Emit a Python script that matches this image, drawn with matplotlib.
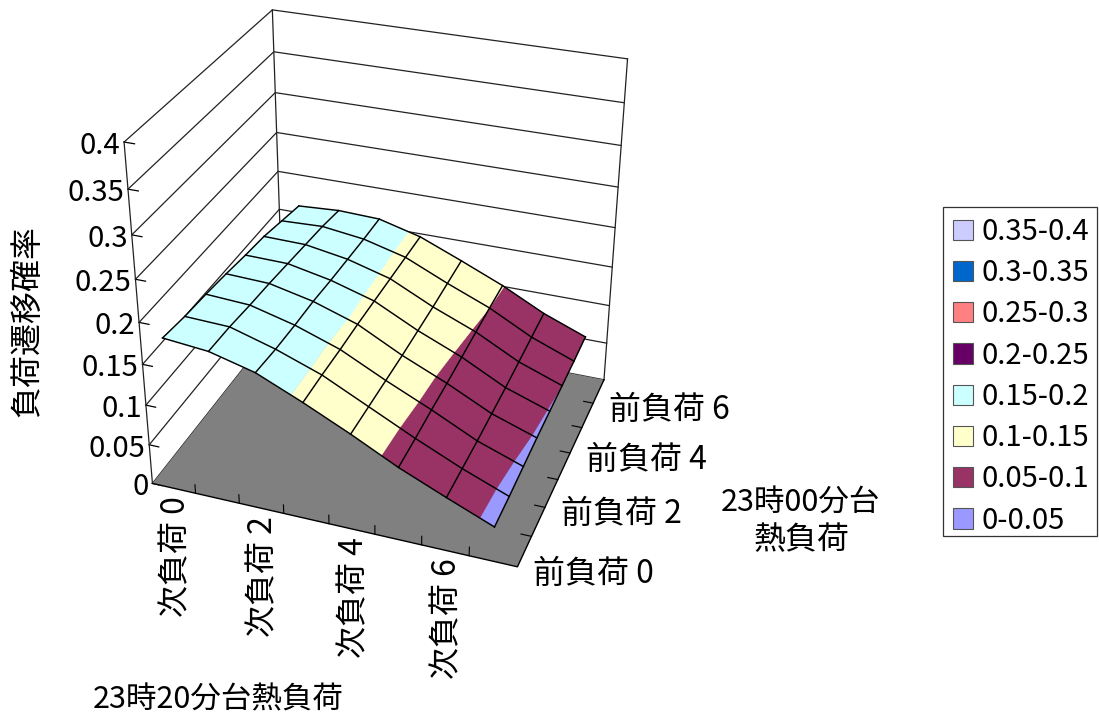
import numpy as np
import matplotlib
matplotlib.use('Agg')
import matplotlib.pyplot as plt
from matplotlib.patches import Patch, Rectangle
from mpl_toolkits.mplot3d import proj3d
from mpl_toolkits.mplot3d.art3d import Poly3DCollection

plt.rcParams['font.family'] = ['Noto Sans CJK JP', 'DejaVu Sans']

# rows: 前負荷 0..7, columns: 次負荷 0..7
row0 = [0.187, 0.182, 0.168, 0.144, 0.118, 0.090, 0.066, 0.043]
row1 = [0.183, 0.181, 0.165, 0.145, 0.118, 0.091, 0.066, 0.044]
row2 = [0.181, 0.178, 0.164, 0.145, 0.118, 0.093, 0.066, 0.046]
row3 = [0.178, 0.176, 0.164, 0.146, 0.118, 0.094, 0.067, 0.048]
row4 = [0.174, 0.173, 0.162, 0.146, 0.119, 0.096, 0.068, 0.049]
row5 = [0.171, 0.170, 0.161, 0.146, 0.120, 0.098, 0.070, 0.050]
row6 = [0.165, 0.167, 0.160, 0.146, 0.122, 0.100, 0.072, 0.051]
row7 = [0.159, 0.162, 0.160, 0.146, 0.124, 0.101, 0.074, 0.053]

z_ticks = [0, 0.05, 0.1, 0.15, 0.2, 0.25, 0.3, 0.35, 0.4]
z_labels = ['0', '0.05', '0.1', '0.15', '0.2', '0.25', '0.3', '0.35', '0.4']
next_labels = ['次負荷 0', '次負荷 2', '次負荷 4', '次負荷 6']
prev_labels = ['前負荷 0', '前負荷 2', '前負荷 4', '前負荷 6']
band_edges = [0, 0.05, 0.1, 0.15, 0.2, 0.25, 0.3, 0.35, 0.4]
band_names = ['0-0.05', '0.05-0.1', '0.1-0.15', '0.15-0.2', '0.2-0.25', '0.25-0.3', '0.3-0.35', '0.35-0.4']
band_colors = ['#9999FF', '#993366', '#FFFFCC', '#CCFFFF', '#660066', '#FF8080', '#0066CC', '#CCCCFF']

W, H = 1099, 716
Z = np.array([row0, row1, row2, row3, row4, row5, row6, row7])
xs = np.arange(8) + 0.5     # categories sit between ticks
ys = np.arange(8) * 8 / 7   # series run edge to edge


def clip_band(poly, lo, hi):
    # cut a polygon to lo <= z <= hi
    for bound, sign in ((lo, 1), (hi, -1)):
        res = []
        for i in range(len(poly)):
            a, b = np.array(poly[i]), np.array(poly[(i + 1) % len(poly)])
            da, db = sign * (a[2] - bound), sign * (b[2] - bound)
            if da >= 0:
                res.append(a)
            if da * db < 0:
                res.append(a + (b - a) * da / (da - db))
        poly = res
        if not poly:
            break
    return poly


fig = plt.figure(figsize=(W / 100, H / 100), dpi=100)
ax = fig.add_axes([70.157 / W, (H - 590.75) / H, 619.1 / W, 619.1 / H], projection='3d')
ax.set_xlim(0, 8, view_margin=0)
ax.set_ylim(0, 8, view_margin=0)
ax.set_zlim(0, 0.4, view_margin=0)
ax.view_init(30.118, -70.097, 0.0025)
ax.set_proj_type('persp', focal_length=0.52828)
ax.set_box_aspect((1, 0.88603, 0.99708))
ax.set_axis_off()
ax.computed_zorder = False
ax.patch.set_alpha(0)

line = dict(color='#222222', lw=0.9, zorder=1)
for z in z_ticks:
    ax.plot([0, 0, 8], [0, 8, 8], [z, z, z], **line)
    ax.plot([0, 0.22], [0, 0], [z, z], color='black', lw=0.9, zorder=1)
for x, y in ((0, 0), (0, 8), (8, 8)):
    ax.plot([x, x], [y, y], [0, 0.4], **line)

floor = Poly3DCollection([[(0, 0, 0), (8, 0, 0), (8, 8, 0), (0, 8, 0)]], facecolor='#808080',
                         edgecolor='none', zorder=2)
ax.add_collection3d(floor)
ax.plot([0, 8, 8], [0, 0, 8], [0, 0, 0], color='black', lw=1.0, zorder=3)
for i in range(1, 8):
    ax.plot([i, i], [0, 0], [0, 0.011], color='black', lw=0.8, zorder=3)
for y in ys[1:-1]:
    ax.plot([8, 7.78], [y, y], [0, 0], color='black', lw=0.8, zorder=3)

for k, color in enumerate(band_colors):
    polys = []
    for j in range(7):
        for i in range(7):
            quad = [(xs[i], ys[j], Z[j, i]), (xs[i + 1], ys[j], Z[j, i + 1]),
                    (xs[i + 1], ys[j + 1], Z[j + 1, i + 1]), (xs[i], ys[j + 1], Z[j + 1, i])]
            piece = clip_band(quad, band_edges[k], band_edges[k + 1])
            if len(piece) > 2:
                polys.append(piece)
    if polys:
        ax.add_collection3d(Poly3DCollection(polys, facecolor=color, edgecolor=color, lw=0.3, zorder=4))

for j in range(8):
    ax.plot(xs, [ys[j]] * 8, Z[j], color='black', lw=1.05, zorder=5)
for i in range(8):
    ax.plot([xs[i]] * 8, ys, Z[:, i], color='black', lw=1.05, zorder=5)

M = ax.get_proj()


def to_2d(x, y, z):
    u, v, _ = proj3d.proj_transform(x, y, z, M)
    return float(u), float(v)


fs = 23
for z, label in zip(z_ticks, z_labels):
    ax.annotate(label, to_2d(0, 0, z), xytext=(-4, -4), textcoords='offset pixels',
                ha='right', va='center', fontsize=21)
for x, label in zip((0.5, 2.5, 4.5, 6.5), next_labels):
    ax.annotate(label, to_2d(x, 0, 0), xytext=(2, -8), textcoords='offset pixels',
                ha='center', va='top', rotation=90, fontsize=fs)
for j, label in zip((0, 2, 4, 6), prev_labels):
    ax.annotate(label, to_2d(8, ys[j], 0), xytext=(16, -7), textcoords='offset pixels',
                ha='left', va='center', fontsize=fs)

fig.text(27 / W, 1 - 321 / H, '負荷遷移確率', rotation=90, ha='center', va='center', fontsize=fs)
fig.text(218 / W, 1 - 700 / H, '23時20分台熱負荷', ha='center', va='center', fontsize=22)
fig.text(800 / W, 1 - 503 / H, '23時00分台', ha='center', va='center', fontsize=22)
fig.text(802 / W, 1 - 540 / H, '熱負荷', ha='center', va='center', fontsize=fs)

fig.add_artist(Rectangle((943 / W, 1 - 536 / H), 154 / W, 329 / H, transform=fig.transFigure,
                         facecolor='white', edgecolor='#333333', lw=0.9))
handles = [Patch(facecolor=c, edgecolor='#555555', lw=0.8, label=n)
           for c, n in zip(band_colors[::-1], band_names[::-1])]
fig.legend(handles=handles, loc='upper left', bbox_to_anchor=(943 / W, 1 - 207 / H), borderaxespad=0,
           fontsize=21, frameon=False, handlelength=0.686, handleheight=0.686, handletextpad=0.31,
           labelspacing=0.386, borderpad=0.34)

fig.savefig('out.png', dpi=100)
